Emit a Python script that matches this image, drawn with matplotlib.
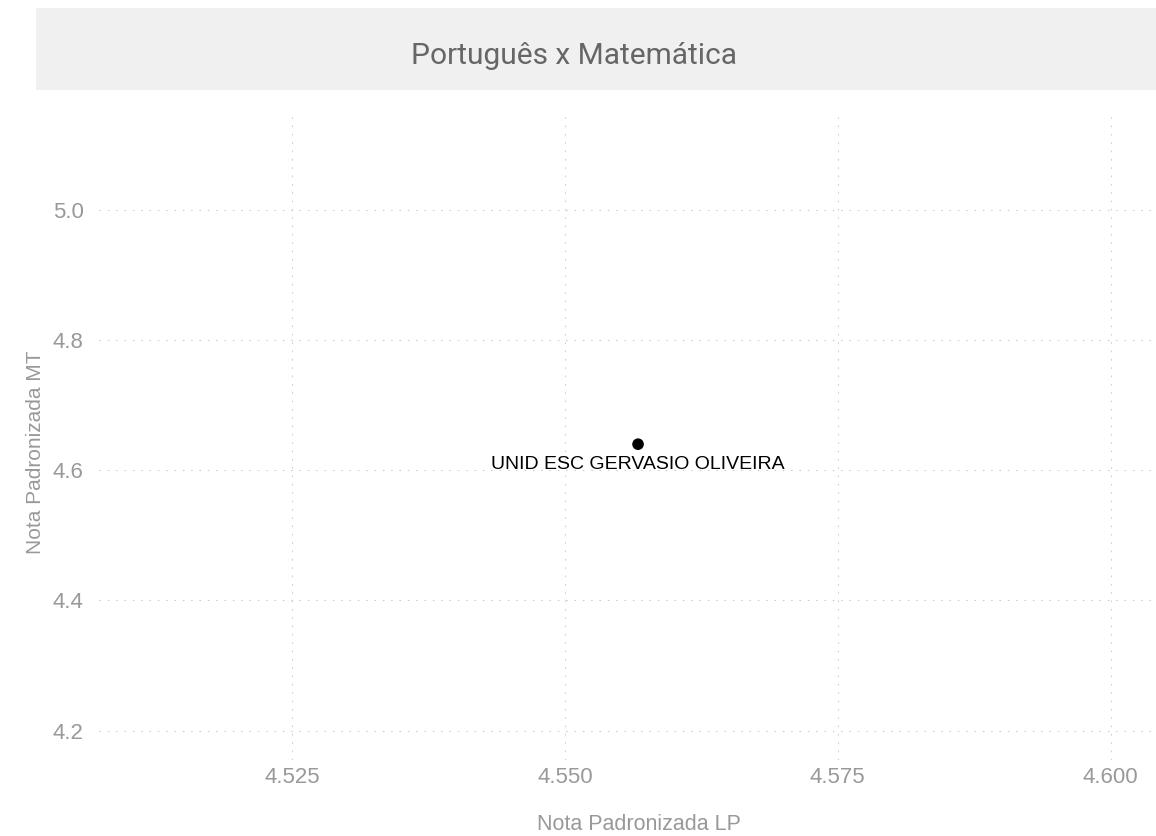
import matplotlib
matplotlib.use("Agg")
import matplotlib.pyplot as plt
from matplotlib.patches import Rectangle

# Data
schools = ["UNID ESC GERVASIO OLIVEIRA"]
nota_lp = [4.5567]
nota_mt = [4.640]
x_ticks = [4.525, 4.550, 4.575, 4.600]
x_tick_labels = ["4.525", "4.550", "4.575", "4.600"]
y_ticks = [4.2, 4.4, 4.6, 4.8, 5.0]
y_tick_labels = ["4.2", "4.4", "4.6", "4.8", "5.0"]
title = "Português x Matemática"
xlabel = "Nota Padronizada LP"
ylabel = "Nota Padronizada MT"

plt.rcParams['font.family'] = ['Liberation Sans', 'DejaVu Sans']

W, H = 1156, 836
fig = plt.figure(figsize=(W / 100, H / 100), dpi=100)
fig.patch.set_facecolor("white")

# Title banner
fig.patches.append(Rectangle((36 / W, 1 - 90 / H), (W - 36) / W, 82 / H,
                             transform=fig.transFigure, facecolor="#f0f0f0",
                             edgecolor="none", zorder=0))
fig.text(574 / W, 1 - 64 / H, title, ha="center", va="baseline",
         fontsize=21.5, color="#666666", family=["Roboto", "DejaVu Sans"])

left, right, top, bottom = 99, 1152, 116, 760
ax = fig.add_axes([left / W, 1 - bottom / H, (right - left) / W, (bottom - top) / H])
ax.set_facecolor("white")
ax.set_xlim(4.5073, 4.6038)
ax.set_ylim(4.155, 5.144)

for s in ax.spines.values():
    s.set_visible(False)

ax.set_xticks(x_ticks)
ax.set_xticklabels(x_tick_labels)
ax.set_yticks(y_ticks)
ax.set_yticklabels(y_tick_labels)
ax.tick_params(axis="both", length=0, colors="#999999", labelsize=16)
ax.tick_params(axis="x", pad=5)
ax.tick_params(axis="y", pad=11)

ax.grid(True, color="#cccccc", linewidth=0.75, linestyle=(0, (1.5, 6.5)))
ax.set_axisbelow(True)

ax.scatter(nota_lp, nota_mt, s=70, color="black", zorder=3, edgecolors="none")
for name, xv, yv in zip(schools, nota_lp, nota_mt):
    ax.annotate(name, (xv, yv), xytext=(0, -14.5), textcoords="offset points",
                ha="center", va="center", fontsize=14, color="black", zorder=4)

fig.text(639 / W, 1 - 825 / H, xlabel, ha="center", va="center",
         fontsize=15.5, color="#999999")
fig.text(36 / W, 1 - 452 / H, ylabel, ha="center", va="center",
         rotation=90, fontsize=15, color="#999999")

fig.savefig("out.png", dpi=100)
